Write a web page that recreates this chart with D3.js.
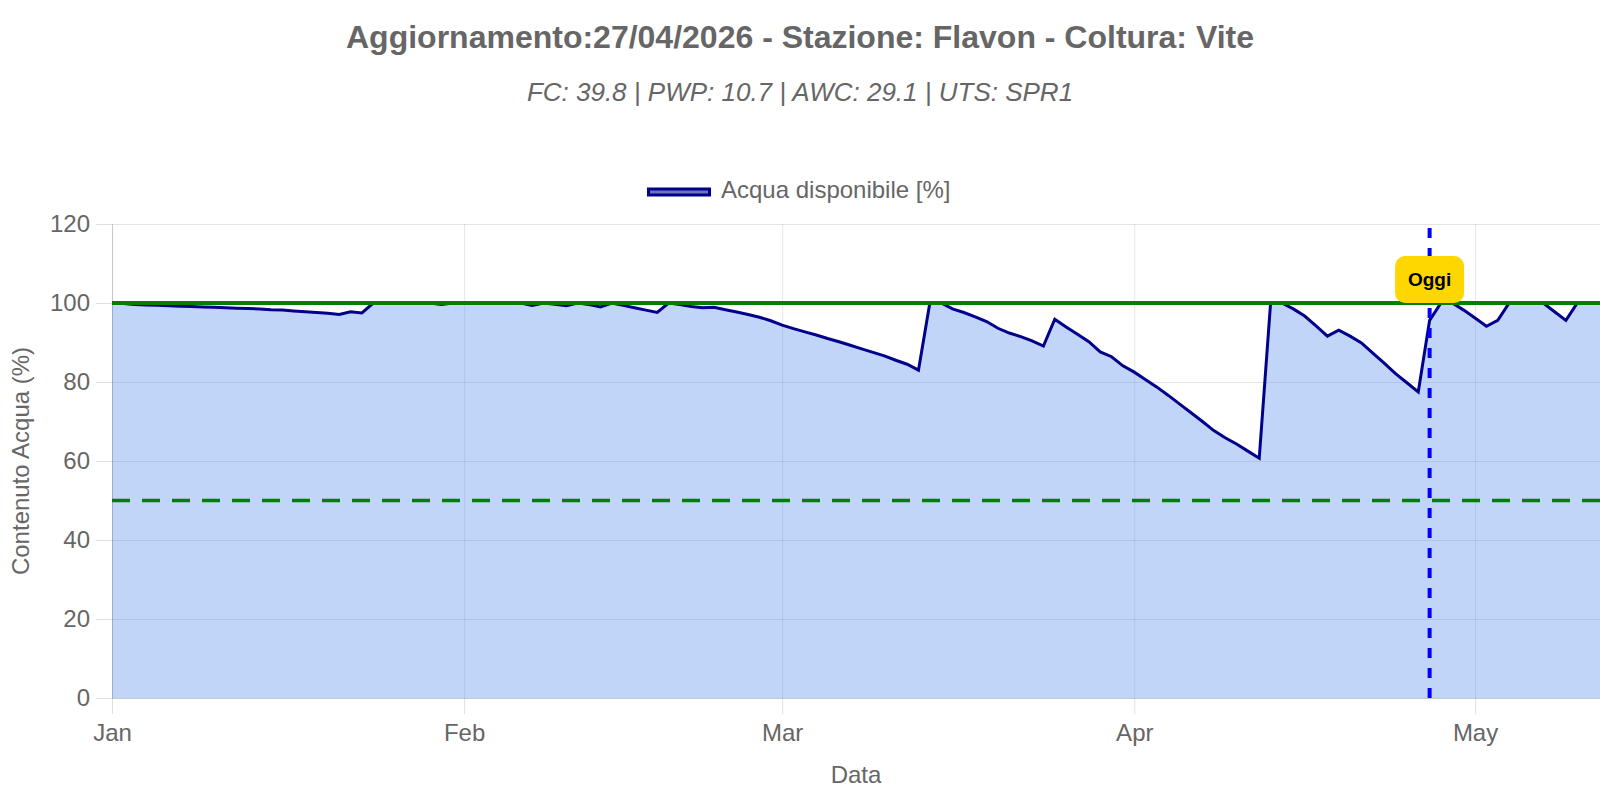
<!doctype html>
<html>
<head>
    <meta charset="utf8">
    <style>
        body {
            margin: 0;
            background: #fff;
        }
        text {
            font-family: "Liberation Sans", Arial, sans-serif;
            fill: #666;
        }
        .grid line {
            stroke: rgba(0, 0, 0, 0.1);
        }
        .grid .domain {
            display: none;
        }
        .axis line, .axis path {
            stroke: rgba(0, 0, 0, 0.12);
        }
        .axis text {
            font-size: 24px;
            fill: #666;
        }
    </style>
    <script src="https://d3js.org/d3.v7.min.js"></script>
</head>
<body>
<svg width="1600" height="800"></svg>
<script>

    var titolo = "Aggiornamento:27/04/2026 - Stazione: Flavon - Coltura: Vite";
    var sottotitolo = "FC: 39.8 | PWP: 10.7 | AWC: 29.1 | UTS: SPR1";
    var nomeSerie = "Acqua disponibile [%]";

    var inizio = "2026-01-01";
    var fine = "2026-05-12";
    var oggi = "2026-04-27";
    var mesi = ["2026-01-01", "2026-02-01", "2026-03-01", "2026-04-01", "2026-05-01"];
    var yTicks = [0, 20, 40, 60, 80, 100, 120];
    var capacitaCampo = 100;
    var sogliaStress = 50;

    // valori giornalieri, uno per giorno a partire da "inizio"
    var acquaGen = [100, 99.85, 99.6, 99.5, 99.4, 99.3, 99.2, 99.1, 99.0, 98.9, 98.8, 98.7, 98.6, 98.5, 98.3, 98.2,
                    98.0, 97.8, 97.6, 97.4, 97.1, 97.8, 97.5, 100, 100, 100, 100, 100, 100, 99.6, 100];
    var acquaFeb = [100, 100, 100, 100, 100, 100, 99.4, 100, 99.7, 99.3, 100, 99.6, 99.0, 100, 99.4, 98.8,
                    98.2, 97.6, 100, 99.6, 99.1, 98.8, 98.9, 98.3, 97.7, 97.1, 96.4, 95.5];
    var acquaMar = [94.4, 93.5, 92.7, 91.9, 91.0, 90.2, 89.3, 88.4, 87.5, 86.6, 85.5, 84.5, 83.0, 100, 100, 98.5,
                    97.6, 96.5, 95.3, 93.6, 92.4, 91.5, 90.4, 89.1, 95.9, 93.9, 92.1, 90.2, 87.6, 86.4, 84.1];
    var acquaApr = [82.5, 80.6, 78.7, 76.6, 74.4, 72.2, 70.0, 67.7, 65.9, 64.3, 62.5, 60.7, 100, 100, 98.5, 96.7,
                    94.2, 91.6, 93.1, 91.6, 89.9, 87.3, 84.8, 82.1, 79.8, 77.5, 95.6, 100, 100, 98.2];
    var acquaMag = [96.2, 94.1, 95.6, 100, 100, 100, 100, 97.8, 95.6, 100, 100, 100];

    var parse = d3.timeParse("%Y-%m-%d");
    var valori = acquaGen.concat(acquaFeb, acquaMar, acquaApr, acquaMag);
    var data = valori.map(function(v, i) {
        return {date: d3.timeDay.offset(parse(inizio), i), value: v};
    });

    var svg = d3.select("svg"),
        pLeft = 112,
        pRight = 1600,
        pTop = 224,
        pBottom = 698;

    var x = d3.scaleTime().domain([parse(inizio), parse(fine)]).range([pLeft, pRight]),
        y = d3.scaleLinear().domain([0, 120]).range([pBottom, pTop]);

    // titoli
    svg.append("text")
       .attr("x", 800)
       .attr("y", 48)
       .attr("text-anchor", "middle")
       .attr("font-size", "32px")
       .attr("font-weight", "bold")
       .text(titolo);

    svg.append("text")
       .attr("x", 800)
       .attr("y", 101)
       .attr("text-anchor", "middle")
       .attr("font-size", "26px")
       .attr("font-style", "italic")
       .text(sottotitolo);

    // legenda
    svg.append("rect")
       .attr("x", 648.5)
       .attr("y", 189)
       .attr("width", 61)
       .attr("height", 6)
       .attr("fill", "#6c72c0")
       .attr("stroke", "#00008b")
       .attr("stroke-width", 3);

    svg.append("text")
       .attr("x", 721)
       .attr("y", 198)
       .attr("font-size", "24px")
       .text(nomeSerie);

    // griglia
    svg.append("g")
       .attr("class", "grid")
       .attr("transform", "translate(" + pLeft + ",0)")
       .call(d3.axisLeft(y).tickValues(yTicks).tickSize(-(pRight - pLeft)).tickFormat(""));

    svg.append("g")
       .attr("class", "grid")
       .attr("transform", "translate(0," + pBottom + ")")
       .call(d3.axisBottom(x).tickValues(mesi.map(parse)).tickSize(-(pBottom - pTop)).tickFormat(""));

    // area e linea
    svg.append("clipPath")
       .attr("id", "clip")
       .append("rect")
       .attr("x", pLeft)
       .attr("y", 0)
       .attr("width", pRight - pLeft)
       .attr("height", pBottom);

    var plot = svg.append("g").attr("clip-path", "url(#clip)");

    plot.append("path")
        .datum(data)
        .attr("fill", "rgba(100, 149, 237, 0.4)")
        .attr("d", d3.area()
            .x(function(d) { return x(d.date); })
            .y0(y(0))
            .y1(function(d) { return y(d.value); }));

    plot.append("path")
        .datum(data)
        .attr("fill", "none")
        .attr("stroke", "#00008b")
        .attr("stroke-width", 3)
        .attr("d", d3.line()
            .x(function(d) { return x(d.date); })
            .y(function(d) { return y(d.value); }));

    // assi
    svg.append("g")
       .attr("class", "axis")
       .attr("transform", "translate(" + pLeft + ",0)")
       .call(d3.axisLeft(y).tickValues(yTicks).tickSize(16).tickSizeOuter(0).tickPadding(6));

    svg.append("g")
       .attr("class", "axis")
       .attr("transform", "translate(0," + pBottom + ")")
       .call(d3.axisBottom(x).tickValues(mesi.map(parse)).tickFormat(d3.timeFormat("%b"))
           .tickSize(16).tickSizeOuter(0).tickPadding(10));

    svg.append("text")
       .attr("x", (pLeft + pRight) / 2)
       .attr("y", 783)
       .attr("text-anchor", "middle")
       .attr("font-size", "24px")
       .text("Data");

    svg.append("text")
       .attr("transform", "translate(21," + ((pTop + pBottom) / 2) + ") rotate(-90)")
       .attr("dy", "0.35em")
       .attr("text-anchor", "middle")
       .attr("font-size", "24px")
       .text("Contenuto Acqua (%)");

    // soglie
    svg.append("line")
       .attr("x1", pLeft).attr("x2", pRight)
       .attr("y1", y(sogliaStress)).attr("y2", y(sogliaStress))
       .attr("stroke", "green")
       .attr("stroke-width", 3.5)
       .attr("stroke-dasharray", "18,12");

    svg.append("line")
       .attr("x1", pLeft).attr("x2", pRight)
       .attr("y1", y(capacitaCampo)).attr("y2", y(capacitaCampo))
       .attr("stroke", "green")
       .attr("stroke-width", 4);

    // linea di oggi
    var xo = x(parse(oggi));
    svg.append("line")
       .attr("x1", xo).attr("x2", xo)
       .attr("y1", y(0)).attr("y2", y(120))
       .attr("stroke", "blue")
       .attr("stroke-width", 4)
       .attr("stroke-dasharray", "10,10");

    svg.append("rect")
       .attr("x", xo - 34.5)
       .attr("y", 256)
       .attr("width", 69)
       .attr("height", 47)
       .attr("rx", 10)
       .attr("fill", "#ffd700");

    svg.append("text")
       .attr("x", xo)
       .attr("y", 279.5)
       .attr("dy", "0.35em")
       .attr("text-anchor", "middle")
       .attr("font-size", "19px")
       .attr("font-weight", "bold")
       .style("fill", "#000")
       .text("Oggi");

</script>
</body>
</html>
